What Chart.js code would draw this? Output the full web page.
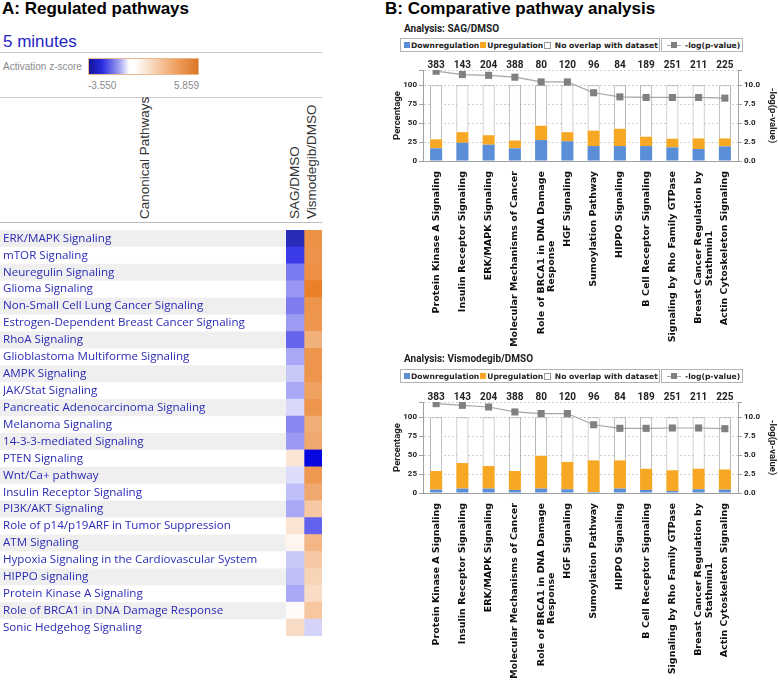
<!DOCTYPE html>
<html>
<head>
<meta charset="utf-8">
<script src="https://cdn.jsdelivr.net/npm/chart.js@4.4.1/dist/chart.umd.min.js"></script>
<style>
  body { margin: 0; width: 778px; height: 682px; position: relative; overflow: hidden; background: #fff; font-family: "Liberation Sans", Arial, sans-serif; }
  .abs { position: absolute; white-space: nowrap; }
  .panel-title { font-weight: bold; font-size: 17px; color: #000; }
  .rule { position: absolute; height: 1px; background: #c8c8c8; }
  .rot { position: absolute; transform-origin: 0 0; transform: rotate(-90deg); white-space: nowrap; font-size: 13.5px; color: #333; line-height: 16px; }
  .analysis { font-family: Roboto, sans-serif; font-weight: bold; font-size: 10px; color: #222; }
  .legend { position: absolute; border: 1px solid #b4b4b4; height: 12px; display: flex; align-items: center; white-space: nowrap; font-family: "DejaVu Sans", sans-serif; font-weight: bold; font-size: 7.6px; color: #222; padding: 0 2px; box-sizing: content-box; overflow: visible; }
  .legend .sw { width: 6px; height: 6px; margin: 0 1px 0 1px; flex: none; }
  .legend .ln { width: 14px; height: 1px; background: #a6a6a6; position: relative; margin: 0 4px 0 3px; flex: none; }
  .legend .ln::after { content: ""; position: absolute; left: 4px; top: -3px; width: 6px; height: 6px; background: #808080; }
  canvas { position: absolute; }
</style>
</head>
<body>
<!-- panel A header -->
<div class="abs panel-title" style="left:2px; top:-1px;">A: Regulated pathways</div>
<div class="abs" style="left:3px; top:32px; font-size:17px; color:#2626c8;">5 minutes</div>
<div class="rule" style="left:0; top:52px; width:322px;"></div>
<div class="abs" style="left:3px; top:61px; font-size:10px; color:#8a8a8a;">Activation z-score</div>
<div class="abs" style="left:88px; top:58px; width:111px; height:17px; box-sizing:border-box; border:1px solid #e8b890;
  background:linear-gradient(to right,#14149a 0%,#2a2ae0 12%,#9a9af0 27%,#ffffff 37%,#ffffff 42%,#f8dcc4 56%,#f0a060 80%,#dc7626 100%);"></div>
<div class="abs" style="left:88px; top:80px; font-size:10px; color:#8a8a8a;">-3.550</div>
<div class="abs" style="left:174px; top:80px; font-size:10px; color:#8a8a8a;">5.859</div>
<div class="rule" style="left:0; top:97px; width:322px;"></div>
<div class="rot" style="left:137px; top:219px;">Canonical Pathways</div>
<div class="rot" style="left:287px; top:219px;">SAG/DMSO</div>
<div class="rot" style="left:304px; top:219px;">Vismodegib/DMSO</div>
<div class="rule" style="left:0; top:222px; width:322px; background:#bdbdbd;"></div>
<canvas id="heatChart" width="330" height="420" style="left:0; top:223px;"></canvas>

<!-- panel B -->
<div class="abs panel-title" style="left:385px; top:-1px;">B: Comparative pathway analysis</div>
<div class="abs analysis" style="left:404px; top:23px;">Analysis: SAG/DMSO</div>
<div id="legendTop"></div>
<canvas id="sagChart" width="398" height="305" style="left:380px; top:55px;"></canvas>
<div class="abs analysis" style="left:404px; top:353px;">Analysis: Vismodegib/DMSO</div>
<div id="legendBottom"></div>
<canvas id="vismoChart" width="398" height="297" style="left:380px; top:385px;"></canvas>

<script>
// Panel A: canonical pathways and activation z-scores
const pathways = [
  "ERK/MAPK Signaling",
  "mTOR Signaling",
  "Neuregulin Signaling",
  "Glioma Signaling",
  "Non-Small Cell Lung Cancer Signaling",
  "Estrogen-Dependent Breast Cancer Signaling",
  "RhoA Signaling",
  "Glioblastoma Multiforme Signaling",
  "AMPK Signaling",
  "JAK/Stat Signaling",
  "Pancreatic Adenocarcinoma Signaling",
  "Melanoma Signaling",
  "14-3-3-mediated Signaling",
  "PTEN Signaling",
  "Wnt/Ca+ pathway",
  "Insulin Receptor Signaling",
  "PI3K/AKT Signaling",
  "Role of p14/p19ARF in Tumor Suppression",
  "ATM Signaling",
  "Hypoxia Signaling in the Cardiovascular System",
  "HIPPO signaling",
  "Protein Kinase A Signaling",
  "Role of BRCA1 in DNA Damage Response",
  "Sonic Hedgehog Signaling",
];
const sagZ = [-3.55, -2.2, -1.49, -1.15, -1.46, -1.12, -1.72, -0.97, -0.62, -0.97, -0.44, -1.33,
  -1.13, 1.15, -0.39, -0.71, -0.97, 1.25, 0.46, -0.62, -0.71, -0.97, 0.23, 1.6];
const vismoZ = [5.07, 4.93, 5.12, 5.859, 4.9, 4.85, 3.65, 4.9, 4.9, 4.3, 4.9, 3.74,
  4.0, -2.85, 4.75, 4.0, 2.54, -1.76, 3.3, 2.54, 2.0, 1.6, 2.6, -0.48];

// Panel B: top pathways compared between the two analyses
const compPathways = [
  "Protein Kinase A Signaling",
  "Insulin Receptor Signaling",
  "ERK/MAPK Signaling",
  "Molecular Mechanisms of Cancer",
  ["Role of BRCA1 in DNA Damage", "Response" + " ".repeat(21)],
  "HGF Signaling",
  "Sumoylation Pathway",
  "HIPPO Signaling",
  "B Cell Receptor Signaling",
  "Signaling by Rho Family GTPase",
  ["Breast Cancer Regulation by", "Stathmin1" + " ".repeat(18)],
  "Actin Cytoskeleton Signaling",
];
const pathwaySizes = [383, 143, 204, 388, 80, 120, 96, 84, 189, 251, 211, 225];
const sagDown = [16.7, 24, 21.5, 16.7, 27.6, 26, 19.7, 19.7, 19.7, 18, 15.8, 19.3];
const sagUp = [11.8, 14, 12.5, 10.3, 18.9, 12, 20.3, 22.8, 12.3, 11.4, 14, 10.5];
const sagLogP = [11.84, 11.4, 11.3, 11.05, 10.43, 10.43, 9.0, 8.46, 8.38, 8.38, 8.38, 8.29];
const vismoDown = [4.4, 5.8, 5.8, 4, 5.8, 4.9, 1.3, 5.8, 4, 2.7, 4.9, 4.4];
const vismoUp = [24.6, 33.7, 29.7, 25, 43.2, 36.1, 41.7, 37.2, 28, 27.3, 27.1, 26.6];
const vismoLogP = [11.78, 11.56, 11.34, 10.69, 10.48, 10.48, 9.0, 8.53, 8.53, 8.57, 8.57, 8.48];
const seriesNames = ["Downregulation", "Upregulation", "No overlap with dataset", "-log(p-value)"];

const DOWN_COLOR = "#5a8ed6";
const UP_COLOR = "#f6a723";
const LINE_COLOR = "#a6a6a6";
const MARKER_COLOR = "#808080";

// z-score -> heatmap colour (IPA style blue / white / orange)
function zColor(z) {
  const stops = [
    [-3.55, [40, 44, 185]],
    [-2.8, [5, 5, 228]],
    [0, [255, 255, 255]],
    [5.859, [234, 128, 42]],
  ];
  if (z <= stops[0][0]) return `rgb(${stops[0][1].join(",")})`;
  for (let i = 1; i < stops.length; i++) {
    if (z <= stops[i][0]) {
      const [z0, c0] = stops[i - 1];
      const [z1, c1] = stops[i];
      const t = (z - z0) / (z1 - z0);
      const c = c0.map((v, k) => Math.round(v + (c1[k] - v) * t));
      return `rgb(${c.join(",")})`;
    }
  }
  return `rgb(${stops[stops.length - 1][1].join(",")})`;
}

// Grey/white striping behind the pathway names
const rowStripes = {
  id: "rowStripes",
  beforeDraw(chart) {
    const { ctx, chartArea, scales } = chart;
    const y = scales.y;
    const half = (y.getPixelForValue(1) - y.getPixelForValue(0)) / 2;
    ctx.save();
    ctx.fillStyle = "#efefef";
    pathways.forEach((p, i) => {
      if (i % 2 === 0) {
        const cy = y.getPixelForValue(i);
        ctx.fillRect(0, cy - half, chartArea.left, half * 2);
      }
    });
    ctx.restore();
  },
};

new Chart(document.getElementById("heatChart"), {
  type: "bar",
  data: {
    labels: pathways,
    datasets: [
      { label: "SAG/DMSO", data: pathways.map(() => 1), backgroundColor: sagZ.map(zColor) },
      { label: "Vismodegib/DMSO", data: pathways.map(() => 1), backgroundColor: vismoZ.map(zColor) },
    ],
  },
  options: {
    indexAxis: "y",
    responsive: false,
    animation: false,
    events: [],
    layout: { padding: { left: 3, right: 8, top: 0, bottom: 0 } },
    datasets: { bar: { barPercentage: 1, categoryPercentage: 1, borderWidth: 0 } },
    plugins: { legend: { display: false }, tooltip: { enabled: false } },
    scales: {
      x: { display: false, stacked: true, min: 0, max: 2 },
      y: {
        stacked: true,
        grid: { display: false },
        border: { display: false },
        ticks: {
          autoSkip: false,
          crossAlign: "far",
          padding: 0,
          color: "#2b2bb6",
          font: { family: "Open Sans", size: 11.6 },
        },
        afterFit(scale) { scale.width = 283; },
      },
    },
  },
  plugins: [rowStripes],
});

// HTML legend boxes above each comparison chart
function buildLegend(id, top) {
  const el = document.getElementById(id);
  el.innerHTML = `
    <div class="legend" style="left:400px; top:${top}px; width:254px;">
      <span class="sw" style="background:${DOWN_COLOR}"></span>${seriesNames[0]}
      <span class="sw" style="background:${UP_COLOR}"></span>${seriesNames[1]}
      <span class="sw" style="background:#fff; border:1px solid #999; width:5px; height:5px;"></span>&nbsp;${seriesNames[2]}
    </div>
    <div class="legend" style="left:661px; top:${top}px; width:76px;">
      <span class="ln"></span>${seriesNames[3]}
    </div>`;
}
buildLegend("legendTop", 38);
buildLegend("legendBottom", 369);

// Pathway sizes printed above each bar
const sizeLabels = {
  id: "sizeLabels",
  afterDraw(chart) {
    const { ctx, chartArea, scales } = chart;
    ctx.save();
    ctx.font = "bold 10px Roboto";
    ctx.fillStyle = "#222";
    ctx.textAlign = "center";
    ctx.textBaseline = "alphabetic";
    pathwaySizes.forEach((n, i) => {
      ctx.fillText(String(n), scales.x.getPixelForValue(i), chartArea.top - 2);
    });
    ctx.restore();
  },
};

function renderComparison(canvasId, down, up, logP, topPad, axisHeight) {
  const none = down.map((d, i) => 100 - d - up[i]);
  new Chart(document.getElementById(canvasId), {
    type: "bar",
    data: {
      labels: compPathways,
      datasets: [
        {
          type: "line",
          label: seriesNames[3],
          data: logP,
          yAxisID: "y1",
          order: 0,
          borderColor: LINE_COLOR,
          borderWidth: 1.2,
          pointStyle: "rect",
          pointRadius: 5,
          pointBackgroundColor: MARKER_COLOR,
          pointBorderWidth: 0,
          tension: 0,
        },
        { label: seriesNames[0], data: down, backgroundColor: DOWN_COLOR, order: 1, stack: "s" },
        { label: seriesNames[1], data: up, backgroundColor: UP_COLOR, order: 1, stack: "s" },
        {
          label: seriesNames[2],
          data: none,
          backgroundColor: "#ffffff",
          borderColor: "#a8a8a8",
          borderWidth: 1,
          borderSkipped: "bottom",
          order: 1,
          stack: "s",
        },
      ],
    },
    options: {
      responsive: false,
      animation: false,
      events: [],
      layout: { padding: { top: topPad, left: 0, right: 0, bottom: 0 } },
      datasets: { bar: { barPercentage: 0.46, categoryPercentage: 1 } },
      plugins: { legend: { display: false }, tooltip: { enabled: false } },
      scales: {
        x: {
          stacked: true,
          grid: { display: false },
          border: { color: "#a0a0a0" },
          ticks: {
            autoSkip: false,
            minRotation: 90,
            maxRotation: 90,
            padding: 2,
            color: "#111",
            font: { family: "DejaVu Sans", size: 9.5, weight: "bold", lineHeight: 1.1 },
          },
          afterFit(scale) { scale.height = axisHeight; },
        },
        y: {
          position: "left",
          stacked: true,
          min: 0,
          max: 120,
          border: { color: "#a0a0a0", dash: [2, 2] },
          grid: { color: "#cfcfcf", tickLength: 4, tickColor: "#a0a0a0", tickBorderDash: [] },
          ticks: {
            stepSize: 25,
            padding: 2,
            color: "#222",
            font: { family: "Roboto", size: 8, weight: "bold" },
            callback: (v) => (v > 100 ? "" : v),
          },
          title: {
            display: true,
            text: "Percentage",
            color: "#222",
            font: { family: "Roboto", size: 9.5, weight: "bold" },
            padding: { top: 12, bottom: 0 },
          },
          afterFit(scale) { scale.width = 43; },
        },
        y1: {
          position: "right",
          min: 0,
          max: 12,
          border: { color: "#a0a0a0" },
          grid: { drawOnChartArea: false, tickLength: 4, tickColor: "#a0a0a0" },
          ticks: {
            stepSize: 2.5,
            padding: 2,
            color: "#222",
            font: { family: "Roboto", size: 8, weight: "bold" },
            callback: (v) => (v > 10 ? "" : v.toFixed(1)),
          },
          title: {
            display: true,
            text: "-log(p-value)",
            color: "#222",
            font: { family: "Roboto", size: 9.5, weight: "bold" },
            padding: { top: 0, bottom: 0 },
          },
          afterFit(scale) { scale.width = 40; },
        },
      },
    },
    plugins: [sizeLabels],
  });
}

renderComparison("sagChart", sagDown, sagUp, sagLogP, 15, 199);
renderComparison("vismoChart", vismoDown, vismoUp, vismoLogP, 17, 189);
</script>
</body>
</html>
